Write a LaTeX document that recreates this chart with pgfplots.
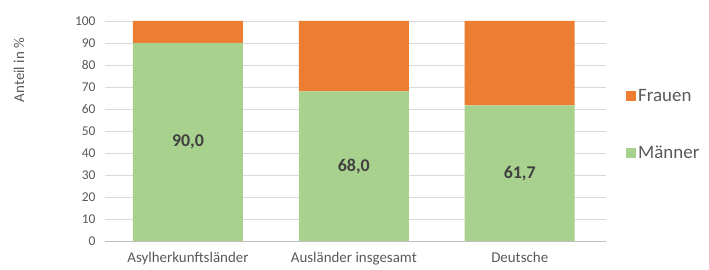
\documentclass[border=0pt]{standalone}
\usepackage{pgfplots}
\pgfplotsset{compat=1.18}
\usepackage{fontspec}
\setmainfont{Carlito}
\definecolor{frauen}{HTML}{ED7D31}
\definecolor{maenner}{HTML}{A9D18E}
\definecolor{txt}{HTML}{595959}
\definecolor{lbl}{HTML}{404040}
\definecolor{gridc}{HTML}{D9D9D9}
\pgfplotsset{base/.style={at={(105bp,29bp)}, anchor=south west,
  width=501bp, height=220bp, scale only axis,
  xmin=-0.5, xmax=2.52, ymin=0, ymax=100}}
\begin{document}
\begin{tikzpicture}
\useasboundingbox (0bp,0bp) rectangle (709bp,270bp);
\begin{axis}[base,
  ybar stacked, bar width=110bp,
  xtick={0,1,2}, xticklabels={Asylherkunftsländer, Ausländer insgesamt, Deutsche},
  ytick={0,10,...,100},
  /pgf/number format/assume math mode=true,
  ticklabel style={font=\fontsize{13.5}{15}\selectfont, text=txt},
  yticklabel style={xshift=-6bp},
  xticklabel style={font=\fontsize{15}{17}\selectfont, text=txt, yshift=-8bp},
  major tick length=0pt,
  ymajorgrids, grid style={gridc, line width=0.7bp},
  axis line style={draw=none},
  extra y ticks={0}, extra y tick labels={},
  extra y tick style={grid style={draw=black!25, line width=0.9bp}},
  legend style={at={(1.034,0.71)}, anchor=north west, draw=none, fill=none,
    font=\fontsize{19}{21}\selectfont, text=txt, row sep=39bp,
    legend cell align=left},
  legend image code/.code={\fill[#1] (0bp,-5bp) rectangle (10bp,5bp);},
  reverse legend,
  clip=false,
]
\addplot[fill=maenner, draw=none] coordinates {(0,90.0) (1,68.0) (2,61.7)};
\addlegendentry{Männer}
\addplot[fill=frauen, draw=none] coordinates {(0,10.0) (1,32.0) (2,38.3)};
\addlegendentry{Frauen}
\end{axis}
\begin{axis}[base, hide axis, clip=false]
\addplot[only marks, mark=none, nodes near coords, point meta=explicit symbolic,
  nodes near coords style={anchor=center, font=\bfseries\fontsize{18}{20}\selectfont, text=lbl}]
  coordinates {(0,45.0)[90,0] (1,34.0)[68,0] (2,30.85)[61,7]};
\end{axis}
\node[rotate=90, font=\fontsize{15}{17}\selectfont, text=txt] at (19bp,200bp) {Anteil in \%};
\end{tikzpicture}
\end{document}
